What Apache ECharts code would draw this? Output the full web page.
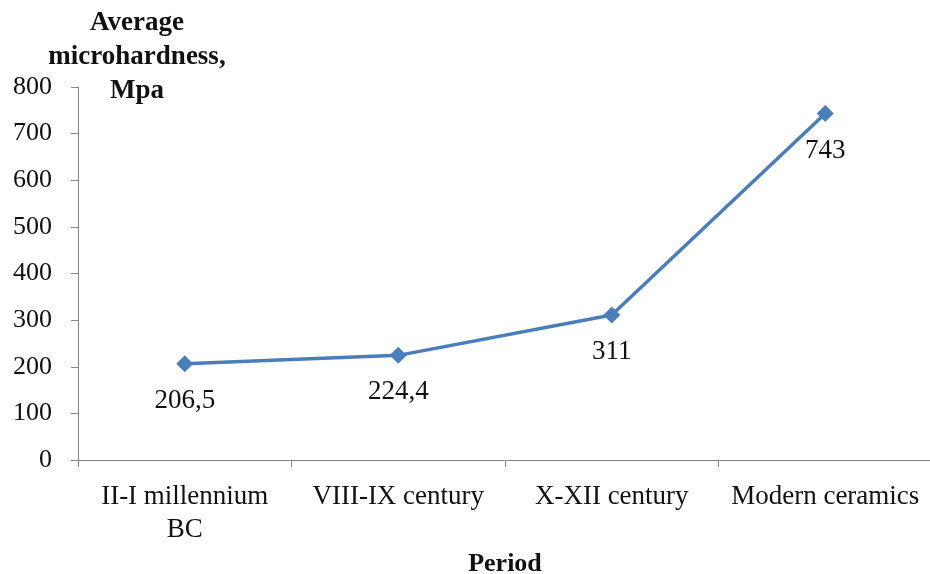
<!DOCTYPE html>
<html>
<head>
<meta charset="utf-8">
<script src="https://cdn.jsdelivr.net/npm/echarts@6/dist/echarts.min.js"></script>
<style>
  html, body { margin: 0; padding: 0; background: #fff; }
  #chart { width: 930px; height: 574px; }
</style>
</head>
<body>
<div id="chart"></div>
<script>
// Periods on the horizontal axis
const periods = ['II-I millennium\nBC', 'VIII-IX century', 'X-XII century', 'Modern ceramics'];
// Average microhardness per period, MPa
const hardness = [206.5, 224.4, 311, 743];
// Value labels as printed (decimal comma)
const hardnessLabels = ['206,5', '224,4', '311', '743'];

const serif = '"Liberation Serif", "Times New Roman", serif';

const chart = echarts.init(document.getElementById('chart'));
chart.setOption({
  animation: false,
  backgroundColor: '#fff',
  title: {
    text: 'Average\nmicrohardness,\nMpa',
    left: 132,
    top: 1,
    textAlign: 'center',
    textStyle: {
      fontFamily: serif,
      fontWeight: 'bold',
      fontSize: 27,
      lineHeight: 34,
      color: '#111'
    }
  },
  grid: { left: 78, top: 87, width: 854, height: 373, containLabel: false, outerBoundsMode: 'none' },
  xAxis: {
    type: 'category',
    data: periods,
    boundaryGap: true,
    name: 'Period',
    nameLocation: 'middle',
    nameGap: 89,
    nameTextStyle: { fontFamily: serif, fontWeight: 'bold', fontSize: 26, color: '#111' },
    axisLine: { lineStyle: { color: '#868686', width: 1 } },
    axisTick: { show: true, length: 7, lineStyle: { color: '#868686' } },
    axisLabel: {
      fontFamily: serif, fontSize: 27, color: '#111',
      lineHeight: 33, margin: 20, interval: 0
    },
    splitLine: { show: false }
  },
  yAxis: {
    type: 'value',
    min: 0,
    max: 800,
    interval: 100,
    axisLine: { show: true, lineStyle: { color: '#868686', width: 1 } },
    axisTick: { show: true, length: 7, lineStyle: { color: '#868686' } },
    axisLabel: { fontFamily: serif, fontSize: 26, color: '#111', margin: 26 },
    splitLine: { show: false }
  },
  series: [{
    type: 'line',
    data: hardness,
    symbol: 'diamond',
    symbolSize: 17,
    lineStyle: { color: '#4a7ebb', width: 3.5 },
    itemStyle: { color: '#4a7ebb' },
    label: {
      show: true,
      position: 'bottom',
      distance: 15,
      fontFamily: serif,
      fontSize: 27,
      color: '#111',
      formatter: (p) => hardnessLabels[p.dataIndex]
    }
  }]
});
</script>
</body>
</html>
